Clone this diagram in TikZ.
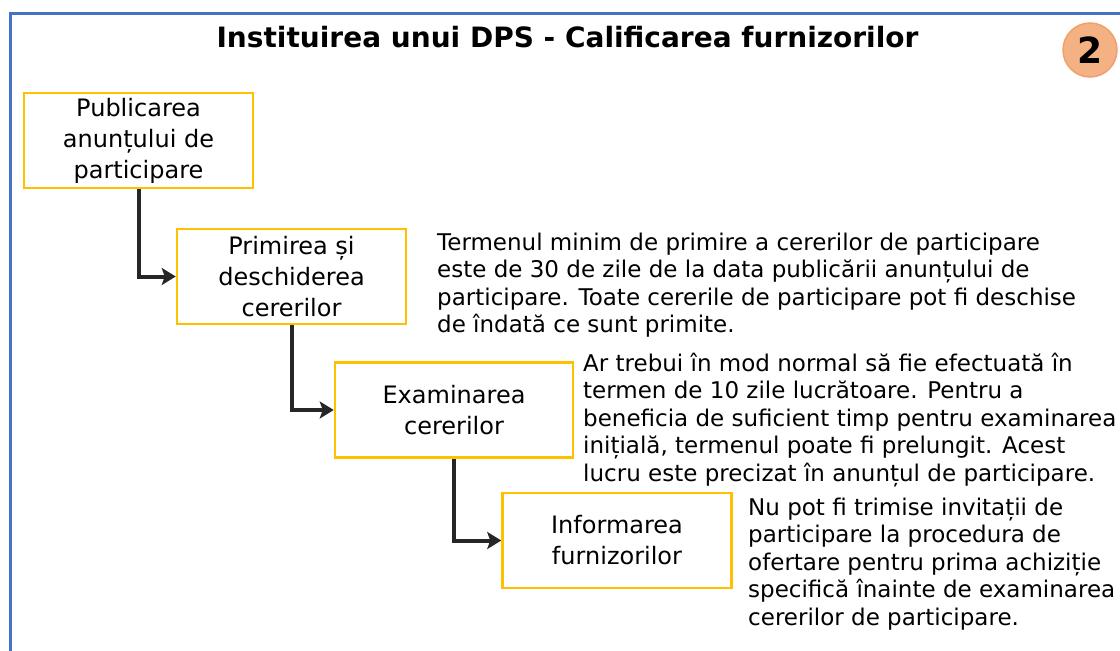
\documentclass[tikz,border=0pt]{standalone}
\usepackage{fontspec}
\setmainfont{DejaVu Sans}
\usetikzlibrary{positioning,arrows.meta}

\definecolor{frameblue}{HTML}{4472C4}
\definecolor{stepgold}{HTML}{FFC000}
\definecolor{badgefill}{HTML}{F4B183}
\definecolor{badgeline}{HTML}{F0A06A}
\definecolor{flowgray}{HTML}{262626}

\begin{document}
\begin{tikzpicture}[x=1pt,y=-1pt,
    stepbox/.style={draw=stepgold,line width=2.5pt,inner sep=0pt,align=center,
      minimum width=229pt,minimum height=95pt,font=\fontsize{24}{31}\selectfont},
    note/.style={anchor=base west,inner sep=0pt,align=left,
      font=\fontsize{23}{27.5}\selectfont},
    flow/.style={draw=flowgray,line width=4pt,line join=miter,
      -{Stealth[length=14pt,width=17pt,inset=3pt]}}]
  \useasboundingbox (0,0) rectangle (1120,651);

  % Frame and heading
  \draw[frameblue,line width=3pt] (1120,13) -- (10,13) -- (10,651);
  \node[anchor=base,inner sep=0pt,font=\fontsize{28}{32}\selectfont\bfseries] (title) at (567.5,47)
    {Instituirea unui DPS - Calificarea furnizorilor};
  \node[circle,fill=badgefill,draw=badgeline,line width=1.5pt,minimum size=54pt,inner sep=0pt,
    font=\fontsize{36}{40}\selectfont\bfseries] (badge) at (1090,50) {2};

  % Steps
  \node[stepbox] (publicare) at (138.5,140.5) {Publicarea\\anunțului de\\participare};
  \node[stepbox] (primire) at (291.5,276.5) {Primirea și\\deschiderea\\cererilor};
  \node[stepbox,minimum width=238pt] (examinare) at (454,410) {Examinarea\\cererilor};
  \node[stepbox] (informare) at (617,540.5) {Informarea\\furnizorilor};

  \draw[flow] (publicare.south) |- (primire.west);
  \draw[flow] (primire.south) |- (examinare.west);
  \draw[flow] (examinare.south) |- (informare.west);

  % Notes (anchored on the baseline of their last line)
  \node[note] (termen) at (437,332.5)
    {Termenul minim de primire a cererilor de participare\\
     este de 30 de zile de la data publicării anunțului de\\
     participare. Toate cererile de participare pot fi deschise\\
     de îndată ce sunt primite.};
  \node[note] (durata) at (583,481)
    {Ar trebui în mod normal să fie efectuată în\\
     termen de 10 zile lucrătoare. Pentru a\\
     beneficia de suficient timp pentru examinarea\\
     inițială, termenul poate fi prelungit. Acest\\
     lucru este precizat în anunțul de participare.};
  \node[note] (invitatii) at (748,625)
    {Nu pot fi trimise invitații de\\
     participare la procedura de\\
     ofertare pentru prima achiziție\\
     specifică înainte de examinarea\\
     cererilor de participare.};
\end{tikzpicture}
\end{document}
